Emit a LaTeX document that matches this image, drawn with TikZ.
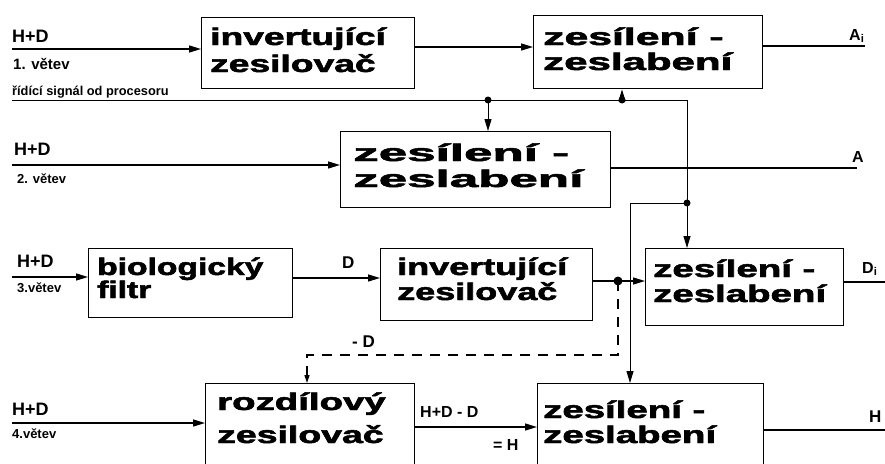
\documentclass[tikz,border=0pt]{standalone}
\usepackage{fontspec}
\usepackage{graphicx}
\setmainfont{Liberation Sans}
\newfontfamily\heavy{Liberation Sans}[BoldFeatures={FakeBold=2}]
\usetikzlibrary{arrows.meta}
\newcommand\hst[2]{\scalebox{#1}[1]{#2}}
\tikzset{
  box/.style={draw, line width=1.4pt, inner sep=0pt, anchor=north west},
  bt/.style={font=\heavy\bfseries\fontsize{24}{27}\selectfont, anchor=base west, inner sep=0pt},
  arr/.style={-{Triangle[length=12pt,width=7pt]}},
  sarr/.style={-{Triangle[length=8pt,width=5pt]}},
  main/.style={line width=1.4pt},
  ctrl/.style={line width=1pt},
  dot/.style={circle, fill, inner sep=0pt, minimum size=7pt},
  lbl/.style={font=\bfseries\fontsize{18}{20}\selectfont, anchor=base west, inner sep=0pt},
  mlbl/.style={font=\bfseries\fontsize{16}{18}\selectfont, anchor=base west, inner sep=0pt},
  blbl/.style={font=\bfseries\fontsize{16}{18}\selectfont, anchor=base west, inner sep=0pt},
  sm/.style={font=\bfseries\fontsize{13}{15}\selectfont, anchor=base west, inner sep=0pt},
}
\begin{document}
\begin{tikzpicture}[x=1pt,y=-1pt]
\useasboundingbox (0,0) rectangle (885,463);
\clip (0,0) rectangle (885,463);
% boxes
\node[box, minimum width=213pt, minimum height=71pt] (b1) at (201,17) {};
\node[box, minimum width=229pt, minimum height=73pt] (b2) at (533,15) {};
\node[box, minimum width=270pt, minimum height=76pt] (b3) at (340,131) {};
\node[box, minimum width=204pt, minimum height=69pt] (b4) at (88,248) {};
\node[box, minimum width=212pt, minimum height=72pt] (b5) at (380,248) {};
\node[box, minimum width=198pt, minimum height=77pt] (b6) at (645,248) {};
\node[box, minimum width=209pt, minimum height=100pt] (b7) at (205,383) {};
\node[box, minimum width=226pt, minimum height=100pt] (b8) at (537,383) {};
% box texts
\node[bt] (t1a) at (210,45) {\hst{1.55}{invertující}};
\node[bt] (t1b) at (210,72) {\hst{1.55}{zesilovač}};
\node[bt] (t2a) at (543,45) {\hst{1.78}{zesílení -}};
\node[bt] (t2b) at (543,70) {\hst{1.75}{zeslabení}};
\node[bt] (t3a) at (353,161) {\hst{2.13}{zesílení -}};
\node[bt] (t3b) at (353,187) {\hst{2.13}{zeslabení}};
\node[bt] (t4a) at (97,275) {\hst{1.4}{biologický}};
\node[bt] (t4b) at (97,298) {\hst{1.4}{filtr}};
\node[bt] (t5a) at (397,275) {\hst{1.5}{invertující}};
\node[bt] (t5b) at (397,300) {\hst{1.5}{zesilovač}};
\node[bt] (t6a) at (653,277) {\hst{1.6}{zesílení -}};
\node[bt] (t6b) at (653,302) {\hst{1.6}{zeslabení}};
\node[bt] (t7a) at (217,410) {\hst{1.6}{rozdílový}};
\node[bt] (t7b) at (217,443) {\hst{1.56}{zesilovač}};
\node[bt] (t8a) at (543,418) {\hst{1.6}{zesílení -}};
\node[bt] (t8b) at (543,443) {\hst{1.6}{zeslabení}};
% row 1
\coordinate (h1) at (12,49);
\draw[main,arr] (h1) -- (h1 -| b1.west);
\coordinate (r1) at (420,47);
\draw[main,arr] (b1.east |- r1) -- (b2.west |- r1);
\coordinate (oAi) at (865,46);
\draw[main] (b2.east |- oAi) -- (oAi);
% control signal
\coordinate (c0) at (12,100);
\coordinate (cR) at (687,100);
\node[dot] (d1) at (488,100) {};
\node[dot] (d2) at (622,100) {};
\node[dot] (d3) at (687,203) {};
\coordinate (k) at (630,203);
\draw[ctrl] (c0) -- (cR) -- (d3.center);
\draw[ctrl,arr] (d3.center) -- (d3 |- b6.north);
\draw[ctrl,arr] (d2.center) -- (d2 |- b2.south);
\draw[ctrl,arr] (d1.center) -- (d1 |- b3.north);
\draw[ctrl,arr] (d3.center) -- (k) -- (k |- b8.north);
% row 2
\coordinate (h2) at (12,165);
\draw[main,arr] (h2) -- (h2 -| b3.west);
\coordinate (oA) at (857,168);
\draw[main] (b3.east |- oA) -- (oA);
% row 3
\coordinate (h3) at (12,277);
\draw[main,arr] (h3) -- (h3 -| b4.west);
\coordinate (r3) at (300,278);
\draw[main,arr] (b4.east |- r3) -- (b5.west |- r3);
\node[dot, minimum size=9pt] (d4) at (618,281) {};
\draw[main,arr] (b5.east |- d4) -- (b6.west |- d4);
\coordinate (oD) at (885,282);
\draw[main] (b6.east |- oD) -- (oD);
\coordinate (m1) at (618,355);
\coordinate (m2) at (307,355);
\draw[main,dash pattern=on 10pt off 8pt,sarr] (d4.center) -- (m1) -- (m2) -- (m2 |- b7.north);
% row 4
\coordinate (h4) at (12,423);
\draw[main,arr] (h4) -- (h4 -| b7.west);
\coordinate (r4) at (420,427);
\draw[main,arr] (b7.east |- r4) -- (b8.west |- r4);
\coordinate (oH) at (885,430);
\draw[main] (b8.east |- oH) -- (oH);
% labels
\node[lbl] (l1) at (12,42) {H+D};
\node[sm,font=\bfseries\fontsize{15}{17}\selectfont] (l2) at (13,69) {1. větev};
\node[sm,font=\bfseries\fontsize{12.8}{14}\selectfont] (l3) at (12,95) {řídící signál od procesoru};
\node[blbl] (lAi) at (849,40) {A\textsubscript{i}};
\node[lbl] (l4) at (14,155) {H+D};
\node[sm] (l5) at (17,183) {2. větev};
\node[blbl] (lA) at (852,162) {A};
\node[lbl] (l6) at (17,267) {H+D};
\node[sm] (l7) at (17,292) {3.větev};
\node[lbl,font=\bfseries\fontsize{17}{19}\selectfont] (lD) at (342,268) {D};
\node[blbl] (lDi) at (862,273) {D\textsubscript{i}};
\node[lbl,font=\bfseries\fontsize{17}{19}\selectfont] (lmD) at (352,347) {- D};
\node[lbl] (l8) at (12,415) {H+D};
\node[sm] (l9) at (12,438) {4.větev};
\node[mlbl] (l10) at (420,417) {H+D - D};
\node[mlbl] (l11) at (493,450) {= H};
\node[blbl,font=\bfseries\fontsize{17}{19}\selectfont] (lH) at (869,422) {H};
\end{tikzpicture}
\end{document}
